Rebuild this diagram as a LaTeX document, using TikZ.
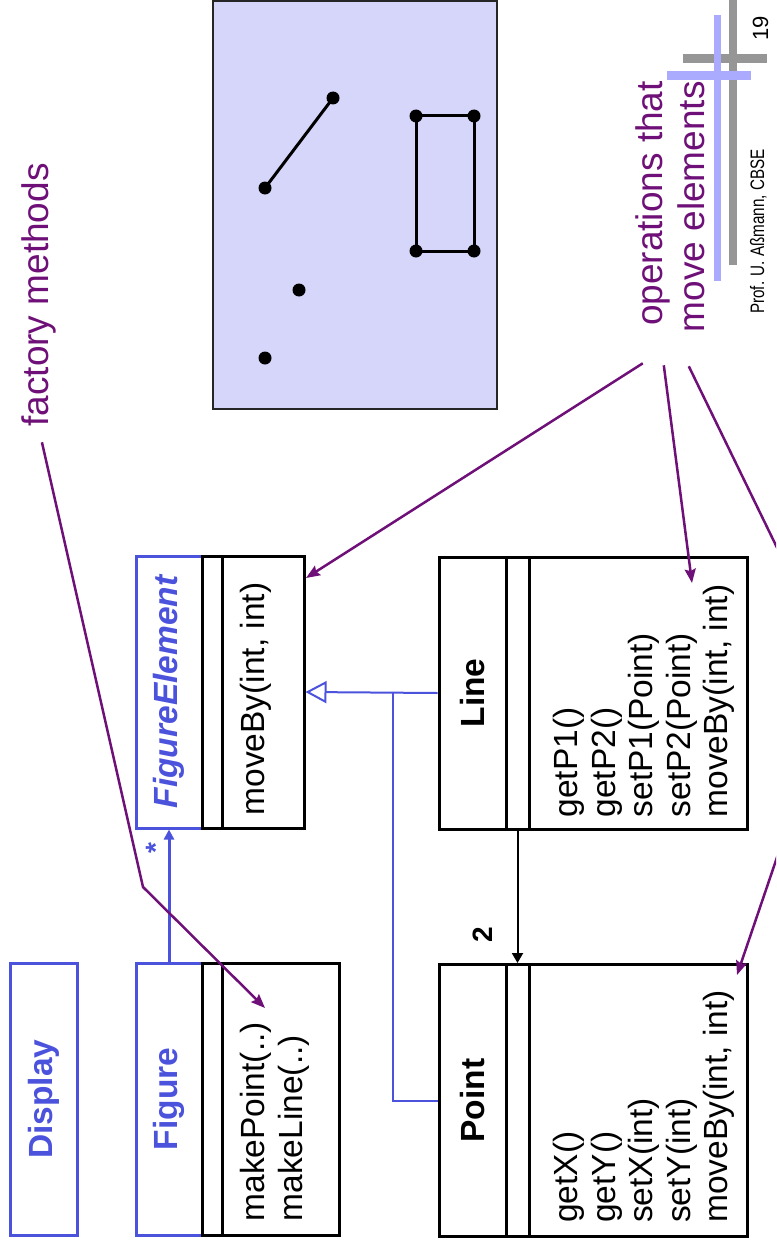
\documentclass[tikz,border=0pt]{standalone}
\usepackage{fontspec}
\setmainfont{Liberation Sans}
\newfontfamily\footfont[FakeStretch=0.78]{Liberation Sans}
\usepackage{xcolor}
\usetikzlibrary{arrows.meta,calc}

\definecolor{umlblue}{RGB}{75,82,220}
\definecolor{notepurple}{RGB}{110,16,120}
\definecolor{canvasfill}{RGB}{214,214,250}
\definecolor{logoblue}{RGB}{170,170,255}
\definecolor{logogray}{RGB}{150,150,150}

\begin{document}
\begin{tikzpicture}[x=1pt, y=-1pt, >=Stealth,
    classbox/.style={draw, line width=3pt, rotate=90, inner sep=0pt, minimum width=272pt},
    bluename/.style={classbox, draw=umlblue, text=umlblue, font=\fontsize{33.5}{37.5}\selectfont\bfseries},
    blackname/.style={classbox, font=\fontsize{33.5}{37.5}\selectfont\bfseries},
    optext/.style={rotate=90, anchor=north west, align=left, inner sep=0pt, font=\fontsize{33.5}{37.5}\selectfont},
    notetext/.style={rotate=90, inner sep=0pt, text=notepurple, font=\fontsize{37}{42}\selectfont},
    note/.style={draw=notepurple, line width=2.5pt, -{Stealth[length=14pt, width=11pt, inset=2pt]}},
    genline/.style={draw=umlblue, line width=2pt}]
    \useasboundingbox (0,0) rectangle (776,1244);
    \clip (0,0) rectangle (776,1244);

    % Canvas with figure elements
    \draw [line width=2pt, draw=black!85, fill=canvasfill] (213,1) rectangle (497,409);
    \draw [line width=3pt] (265,188) -- (333,98);
    \draw [line width=3pt] (416,116) rectangle (474,251);
    \foreach \p in {(333,98), (265,188), (299,290), (265,358), (416,116), (474,116), (416,251), (474,251)}
        \fill \p circle (6.5pt);

    % Logo and footer
    \fill [logogray] (729,0) rectangle (737,265);
    \fill [logogray] (683,54) rectangle (767,63);
    \fill [logoblue] (714,15) rectangle (721,281);
    \fill [logoblue] (667,71) rectangle (751,80);
    \node [rotate=90, anchor=base, inner sep=0pt, font=\fontsize{22}{24}\selectfont] (pagenum) at (768,28.5) {19};
    \node [rotate=90, anchor=base, inner sep=0pt, font=\footfont\fontsize{19.5}{21}\selectfont] (footer) at (764,231.5) {Prof. U. Aßmann, CBSE};

    % Display
    \node [bluename, minimum height=67pt] (display) at (43.5,1099) {Display};

    % Figure
    \node [bluename, minimum height=66pt] (figname) at (169,1099) {Figure};
    \node [classbox, minimum height=20pt] (figattr) at (212,1099) {};
    \node [classbox, minimum height=117pt] (figops) at (280.5,1099) {};
    \node [optext] (figtext) at ($(figops.north west)+(20,-15)$) {makePoint(..)\\makeLine(..)};

    % FigureElement
    \node [bluename, minimum height=66pt, font=\fontsize{33.5}{37.5}\selectfont\bfseries\itshape] (fename) at (169,692) {FigureElement};
    \node [classbox, minimum height=20pt] (feattr) at (212,692) {};
    \node [classbox, minimum height=82pt] (feops) at (263,692) {};
    \node [optext] (fetext) at ($(feops.north west)+(20,-14)$) {moveBy(int, int)};

    % Line
    \node [blackname, minimum height=67pt] (linename) at (472.5,693) {Line};
    \node [classbox, minimum height=23pt] (lineattr) at (517.5,693) {};
    \node [classbox, minimum height=218pt] (lineops) at (638,693) {};
    \node [optext] (linetext) at ($(lineops.north west)+(26,-13)$) {getP1()\\getP2()\\setP1(Point)\\setP2(Point)\\moveBy(int, int)};

    % Point
    \node [blackname, minimum height=67pt] (pointname) at (472.5,1100.5) {Point};
    \node [classbox, minimum height=23pt] (pointattr) at (517.5,1100.5) {};
    \node [classbox, minimum height=218pt] (pointops) at (638,1100.5) {};
    \node [optext] (pointtext) at ($(pointops.north west)+(26,-15)$) {getX()\\getY()\\setX(int)\\setY(int)\\moveBy(int, int)};

    % Inheritance
    \coordinate (genjoin) at (393,693);
    \draw [genline, -{Triangle[open, length=21pt, width=22pt]}] (linename.north) -- (feops.south);
    \draw [genline] (pointname.north) -| (genjoin);

    % Associations
    \draw [umlblue, line width=3pt, -{Triangle[length=10pt, width=10pt]}] (figname.east) -- (fename.west);
    \node [rotate=90, anchor=base, inner sep=0pt, text=umlblue, font=\fontsize{28}{30}\selectfont\bfseries] (many) at (165,848) {*};
    \draw [line width=2pt, -{Triangle[length=10pt, width=11pt]}] (lineattr.west) -- (pointattr.east);
    \node [rotate=90, anchor=base, inner sep=0pt, font=\fontsize{28}{30}\selectfont\bfseries] (two) at (492,934.5) {2};

    % Notes
    \node [notetext, anchor=base] (fm) at (48,295) {factory methods};
    \coordinate (fmbend) at (143,887);
    \coordinate (fmtip) at (265,1008);
    \draw [note] ([xshift=3.5pt, yshift=-15.5pt]fm.west) -- (fmbend) -- (fmtip);

    \node [notetext, align=right, anchor=north east] (opl) at (635,81) {operations that\\move elements};
    \coordinate (fetip) at (306,578);
    \coordinate (linetip) at (692,583);
    \coordinate (opbend) at (839,675);
    \coordinate (pointtip) at (737,975);
    \draw [note] ([xshift=-27pt, yshift=-31pt]opl.west) -- (fetip);
    \draw [note] ([xshift=-6pt, yshift=-33pt]opl.west) -- (linetip);
    \draw [note] ([xshift=19pt, yshift=-34pt]opl.west) -- (opbend) -- (pointtip);
\end{tikzpicture}
\end{document}
